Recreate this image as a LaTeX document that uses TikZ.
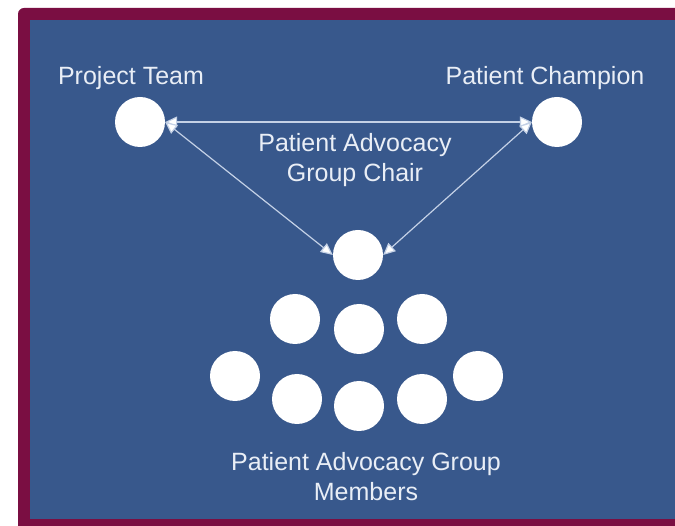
\documentclass[tikz,border=0pt]{standalone}
\usepackage{fontspec}
\setmainfont{Liberation Sans}
\usepackage{xcolor}
\usepackage{tikz}
\usetikzlibrary{positioning,arrows.meta}

\definecolor{frameRed}{HTML}{7A0E42}
\definecolor{panelBlue}{HTML}{38588C}
\definecolor{linkBlue}{HTML}{C4D1E6}
\definecolor{labelWhite}{HTML}{E9EEF6}

\begin{document}
\begin{tikzpicture}[x=1pt, y=-1pt,
    person/.style={circle, fill=white, minimum size=50pt, inner sep=0pt},
    role/.style={text=labelWhite, align=center, font=\fontsize{25}{30}\selectfont},
    link/.style={{Triangle[length=12pt,width=11pt,fill=white]}-{Triangle[length=12pt,width=11pt,fill=white]}, linkBlue, line width=1.2pt}]
    % Canvas
    \clip (0, 0) rectangle (675, 526);
    \fill [white] (0, 0) rectangle (675, 526);

    % Frame and panel
    \fill [frameRed, rounded corners=6pt] (18, 8) rectangle (700, 550);
    \fill [panelBlue] (30, 20) rectangle (675, 519);

    % Top row
    \node [person] (team) at (140, 122) {};
    \node [role] at (131, 78) {Project Team};
    \node [person] (champion) at (557, 122) {};
    \node [role] at (545, 78) {Patient Champion};

    % Chair
    \node [person] (chair) at (358, 255) {};
    \node [role] at (355, 160) {Patient Advocacy\\Group Chair};

    % Links
    \draw [link] (team.east) -- (champion.west);
    \draw [link] (team.east) -- (chair.west);
    \draw [link] (champion.west) -- (chair.east);

    % Members
    \node [person] (m1) at (295, 319) {};
    \node [person] (m2) at (359, 329) {};
    \node [person] (m3) at (422, 319) {};
    \node [person] (m4) at (235, 376) {};
    \node [person] (m5) at (297, 399) {};
    \node [person] (m6) at (359, 406) {};
    \node [person] (m7) at (422, 399) {};
    \node [person] (m8) at (478, 376) {};
    \node [role] at (366, 477) {Patient Advocacy Group\\Members};
\end{tikzpicture}
\end{document}
